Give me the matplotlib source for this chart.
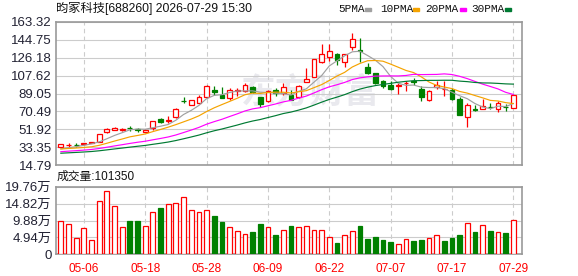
import numpy as np
import pandas as pd
import matplotlib
matplotlib.use('Agg')
import matplotlib.pyplot as plt
from matplotlib.patches import Rectangle

plt.rcParams['font.family'] = ['Liberation Sans', 'Noto Sans CJK SC']

# ---- data ----
title = '昀冢科技[688260] 2026-07-29 15:30'

opens = [34.0, 35.5, 35.9, 36.1, 37.9, 39.1, 48.7, 51.1, 51.6, 53.3,
         51.8, 49.4, 52.8, 63.0, 60.6, 64.7, 81.2, 77.3, 79.4, 85.5,
         93.0, 87.9, 84.5, 91.3, 91.3, 95.8, 85.5, 81.1, 93.0, 89.6,
         88.0, 85.5, 101.5, 106.7, 122.0, 126.5, 129.6, 122.0, 137.4, 133.8,
         116.8, 110.1, 102.2, 97.5, 97.1, 99.6, 101.8, 93.9, 82.1, 95.4,
         93.5, 93.0, 83.8, 65.1, 72.8, 73.3, 75.4, 73.3, 75.4, 74.3]
closes = [36.8, 35.8, 35.6, 37.4, 38.1, 47.0, 52.1, 52.8, 51.8, 52.9,
          51.1, 51.1, 60.6, 59.6, 62.0, 73.2, 80.8, 81.8, 85.5, 97.1,
          90.3, 84.5, 93.0, 93.0, 98.1, 90.3, 77.7, 91.3, 89.6, 95.8,
          82.8, 97.1, 103.9, 124.4, 129.9, 133.0, 123.7, 129.9, 145.2, 133.0,
          110.7, 99.8, 96.4, 94.0, 97.5, 99.9, 101.4, 85.5, 92.0, 97.5,
          93.8, 83.5, 66.8, 76.6, 72.3, 76.0, 75.0, 79.4, 74.9, 87.9]
highs = [37.0, 37.4, 37.8, 37.8, 38.5, 47.3, 53.2, 54.5, 53.2, 55.5,
         52.8, 52.1, 60.6, 64.0, 65.7, 74.2, 85.6, 82.8, 87.9, 98.1,
         97.1, 95.8, 94.7, 94.7, 99.8, 97.1, 85.5, 92.3, 94.7, 99.8,
         92.3, 98.1, 115.2, 125.4, 140.1, 140.1, 131.2, 130.5, 151.5, 146.4,
         120.5, 110.8, 103.3, 101.6, 99.8, 101.6, 105.0, 96.4, 93.0, 101.6,
         101.6, 94.7, 85.5, 79.4, 76.6, 83.5, 79.4, 81.1, 77.7, 89.0]
lows = [33.8, 34.0, 33.7, 35.7, 37.6, 38.8, 47.9, 50.8, 50.6, 50.2,
        49.5, 48.7, 51.4, 57.9, 58.9, 64.0, 79.5, 76.6, 78.7, 84.5,
        87.9, 84.5, 82.8, 86.2, 90.3, 89.6, 75.3, 80.1, 86.9, 87.9,
        82.8, 84.5, 100.5, 106.0, 120.3, 122.9, 118.6, 116.9, 134.6, 122.1,
        109.5, 99.2, 94.7, 93.0, 88.9, 92.0, 98.1, 81.1, 81.1, 93.7,
        86.9, 82.8, 66.8, 54.5, 70.9, 72.6, 72.6, 69.8, 70.9, 74.3]

# closes before the visible window, only used to warm up the moving averages
hist_close = [23.0, 23.5, 24.0, 23.0, 24.5, 24.0, 23.5, 24.0, 24.5, 24.0,
              25.0, 25.5, 26.0, 25.0, 26.5, 26.0, 25.5, 26.5, 26.5, 26.5,
              30.0, 31.0, 31.5, 31.0, 32.0, 30.5, 30.0, 30.5, 30.5]

# volume in 万 (10k)
volume = [9.73, 8.85, 4.77, 7.69, 4.18, 15.57, 18.49, 14.11, 7.98, 9.73,
          9.73, 8.27, 12.36, 13.62, 14.60, 14.89, 16.74, 12.94, 12.36, 12.94,
          11.19, 9.54, 7.98, 6.81, 5.94, 6.62, 8.85, 7.98, 5.64, 7.00,
          8.27, 7.98, 8.27, 7.00, 7.00, 5.06, 3.31, 5.64, 6.81, 8.27,
          4.48, 5.06, 4.18, 3.60, 2.92, 4.38, 3.89, 4.18, 4.77, 5.55,
          3.89, 4.77, 5.64, 9.05, 6.52, 8.47, 6.81, 6.42, 6.23, 10.135]
vol_up = [1, 1, 1, 1, 1, 1, 1, 1, 1, 0,
          0, 1, 1, 0, 1, 1, 1, 1, 1, 1,
          0, 0, 1, 1, 1, 0, 0, 1, 0, 1,
          0, 1, 1, 1, 1, 1, 0, 1, 1, 0,
          0, 0, 0, 0, 1, 1, 0, 0, 1, 1,
          0, 0, 0, 1, 0, 1, 0, 1, 0, 1]
last_volume = '101350'

tick_idx = [3, 11, 19, 27, 35, 43, 51, 59]
tick_labels = ['05-06', '05-18', '05-28', '06-09', '06-22', '07-07', '07-17', '07-29']
price_ticks = [14.79, 33.35, 51.92, 70.49, 89.05, 107.62, 126.18, 144.75, 163.32]
vol_ticks = [0, 4.94, 9.88, 14.82, 19.76]

ma_windows = [5, 10, 20, 30]
ma_names = ['5PMA', '10PMA', '20PMA', '30PMA']
ma_colors = ['#a0a0a0', '#f5a300', '#ff00ff', '#007a33']

RED = '#ff0000'
GREEN = '#008000'
GRID = '#cccccc'
SPINE = '#999999'
LABEL = '#222233'

W, H = 578, 276
fig = plt.figure(figsize=(W / 100, H / 100), dpi=100)
ax = fig.add_axes([56 / W, (H - 165) / H, 466 / W, 143 / H])
axv = fig.add_axes([56 / W, (H - 254.3) / H, 466 / W, 67.6 / H])

x = np.arange(len(closes))
o = np.array(opens)
c = np.array(closes)
up = c >= o

# watermark
ax.text(32.5, 90.5, '东方财富', fontsize=25, color='#e9e9ee', fontweight='bold',
        family=['Noto Sans CJK SC'], ha='center', va='center', zorder=0)

# candles
edge = np.where(up, RED, GREEN)
face = np.where(up, 'white', GREEN)
ax.vlines(x, lows, highs, colors=edge, lw=0.9, zorder=3)
body = np.maximum(np.abs(c - o), 0.3)
ax.bar(x, body, bottom=np.minimum(o, c), width=0.62, color=face,
       edgecolor=edge, linewidth=0.9, zorder=4)

# moving averages
all_close = pd.Series(hist_close + closes)
for win, col in zip(ma_windows, ma_colors):
    ma = all_close.rolling(win).mean().iloc[len(hist_close):].values
    ax.plot(x, ma, color=col, lw=0.85, zorder=5)

# volume bars
vup = np.array(vol_up) == 1
axv.bar(x, volume, width=0.62, color=np.where(vup, 'white', GREEN),
        edgecolor=np.where(vup, RED, GREEN), linewidth=0.9, zorder=3)

for a in (ax, axv):
    a.set_xlim(-0.63, 60.13)
    a.set_xticks(tick_idx)
    a.grid(axis='x', color=GRID, linestyle=(0, (4, 3)), lw=0.8)
    a.grid(axis='y', color=GRID, linestyle='-', lw=0.8)
    a.set_axisbelow(True)
    for s in a.spines.values():
        s.set_color(SPINE)
        s.set_linewidth(1.2)
    a.tick_params(length=0, labelsize=9.5, labelcolor=LABEL, pad=3)

ax.set_ylim(price_ticks[0], price_ticks[-1])
ax.set_yticks(price_ticks)
ax.set_yticklabels(['%.2f' % t for t in price_ticks])
ax.set_xticklabels([])

axv.set_ylim(vol_ticks[0], vol_ticks[-1])
axv.set_yticks(vol_ticks)
axv.set_yticklabels(['0'] + ['%.2f万' % t for t in vol_ticks[1:]])
axv.set_xticklabels(tick_labels, color=RED, fontsize=8.5)
axv.tick_params(axis='x', pad=6)

# header texts
fig.text(56 / W, 1 - 8.5 / H, title, fontsize=8.8, color='#111111',
         va='center', ha='left')
fig.text(57 / W, 1 - 177 / H, '成交量:' + last_volume, fontsize=8.5,
         color='#111111', va='center', ha='left')

# legend
leg_x = [338, 380, 425, 471.5]
sq_x = [365, 413, 460, 505]
for name, col, lx, sx in zip(ma_names, ma_colors, leg_x, sq_x):
    fig.text(lx / W, 1 - 9.5 / H, name, fontsize=8, family=['Liberation Mono'],
             color='#111111', va='center', ha='left')
    fig.add_artist(Rectangle((sx / W, 1 - 11 / H), 6 / W, 3.5 / H,
                             transform=fig.transFigure, color=col))

fig.savefig('out.png', dpi=100)
